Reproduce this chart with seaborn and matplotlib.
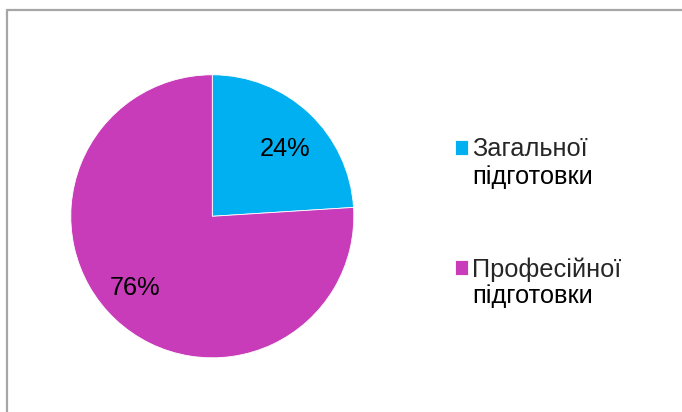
import matplotlib
matplotlib.use("Agg")
import matplotlib.pyplot as plt
import seaborn as sns
from matplotlib.lines import Line2D

categories = ["Загальної підготовки", "Професійної підготовки"]
values = [24, 76]
colors = ["#00B0F0", "#C83CB9"]

sns.set_theme(style="white")
plt.rcParams["font.family"] = ["Liberation Sans", "DejaVu Sans"]

FS = 18.3
W, H = 682, 412
fig = plt.figure(figsize=(W / 100, H / 100), dpi=100)
fig.patch.set_facecolor("white")

cx, cy, r = 212.3, 216.3, 141.5
ax = fig.add_axes([(cx - r) / W, (H - cy - r) / H, 2 * r / W, 2 * r / H])
wedges, texts, autotexts = ax.pie(
    values, colors=colors, startangle=90, counterclock=False,
    autopct="%1.0f%%", pctdistance=0.72, radius=1,
    wedgeprops=dict(edgecolor="white", linewidth=0.6),
    textprops=dict(fontsize=FS, color="black"),
)
# Excel-like label placement
autotexts[0].set_position((0.512, 0.474))
autotexts[1].set_position((-0.546, -0.509))
ax.set_xlim(-1, 1)
ax.set_ylim(-1, 1)
ax.set_aspect("equal")
ax.axis("off")

first_lines = [c.split(" ")[0] for c in categories]
second_lines = [c.split(" ", 1)[1] for c in categories]

leg = fig.legend(
    wedges, first_lines, loc="upper left",
    bbox_to_anchor=(455 / W, 1 - 137.5 / H), frameon=False,
    fontsize=FS, handlelength=0.52, handleheight=0.52,
    handletextpad=0.15, labelspacing=3.76, borderpad=0, borderaxespad=0,
)
fig.canvas.draw()
inv = fig.transFigure.inverted()
for t, s in zip(leg.get_texts(), second_lines):
    bb = t.get_window_extent()
    x0, y0 = inv.transform((bb.x0, (bb.y0 + bb.y1) / 2 - 27))
    fig.text(x0, y0, s, fontsize=FS, ha="left", va="center", color="black")

# chart area border (top and left visible)
border = "#A6A6A6"
fig.add_artist(Line2D([6.5 / W, 1.01], [1 - 9.5 / H, 1 - 9.5 / H],
                      transform=fig.transFigure, color=border, linewidth=1.6))
fig.add_artist(Line2D([6.5 / W, 6.5 / W], [-0.01, 1 - 9.5 / H],
                      transform=fig.transFigure, color=border, linewidth=1.6))

fig.savefig("out.png", dpi=100)
